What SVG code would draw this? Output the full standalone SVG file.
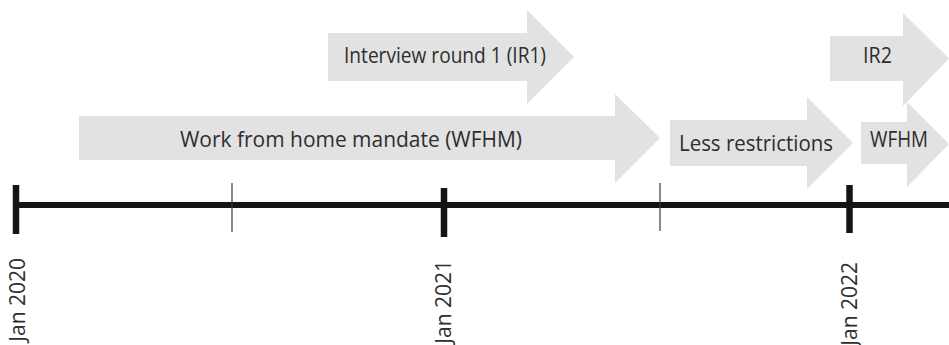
<svg xmlns="http://www.w3.org/2000/svg" width="949" height="345" viewBox="0 0 949 345">
<style>
.arrow{fill:#e2e2e2;stroke:none}
.lbl{font-family:"Open Sans","Liberation Sans",sans-serif;font-size:21px;fill:#2e2e2e}
.date{font-family:"Open Sans","Liberation Sans",sans-serif;font-size:21px;fill:#2e2e2e;text-anchor:end}
.axis{stroke:#141414;stroke-width:6;fill:none}
.major{stroke:#141414;stroke-width:6.5}
.minor{stroke:#3a3a3a;stroke-width:1.2}
</style>
<rect width="949" height="345" fill="#ffffff"/>
<g id="ir1">
<polygon class="arrow" points="328,33 527,33 527,10 574,57 527,104 527,81 328,81"/>
<text class="lbl" x="344" y="63" textLength="202" lengthAdjust="spacingAndGlyphs">Interview round 1 (IR1)</text>
</g>
<g id="wfhm">
<polygon class="arrow" points="79,116 615,116 615,94 660,138 615,183 615,160 79,160"/>
<text class="lbl" x="180" y="147" textLength="342" lengthAdjust="spacingAndGlyphs">Work from home mandate (WFHM)</text>
</g>
<g id="less">
<polygon class="arrow" points="670,120 807,120 807,97 853,143 807,189 807,166 670,166"/>
<text class="lbl" x="679" y="151" textLength="154" lengthAdjust="spacingAndGlyphs">Less restrictions</text>
</g>
<g id="ir2">
<polygon class="arrow" points="830,36 903,36 903,13 949,58.5 903,106 903,81 830,81"/>
<text class="lbl" x="863" y="63" textLength="29" lengthAdjust="spacingAndGlyphs">IR2</text>
</g>
<g id="wfhm2">
<polygon class="arrow" points="861,122 907,122 907,102 949,144 907,187 907,164 861,164"/>
<text class="lbl" x="870" y="147" font-size="19" textLength="58" lengthAdjust="spacingAndGlyphs">WFHM</text>
</g>
<g id="timeline">
<line class="axis" x1="13" y1="205" x2="949" y2="205"/>
<line class="major" x1="16" y1="185" x2="16" y2="234"/>
<line class="minor" x1="232" y1="183" x2="232" y2="232"/>
<line class="major" x1="444" y1="188" x2="444" y2="237"/>
<line class="minor" x1="660" y1="183" x2="660" y2="231"/>
<line class="major" x1="849.5" y1="185" x2="849.5" y2="233"/>
</g>
<g id="dates">
<text class="date" transform="translate(25,258) rotate(-90)">Jan 2020</text>
<text class="date" transform="translate(451,260) rotate(-90)">Jan 2021</text>
<text class="date" transform="translate(857,262) rotate(-90)">Jan 2022</text>
</g>
</svg>
